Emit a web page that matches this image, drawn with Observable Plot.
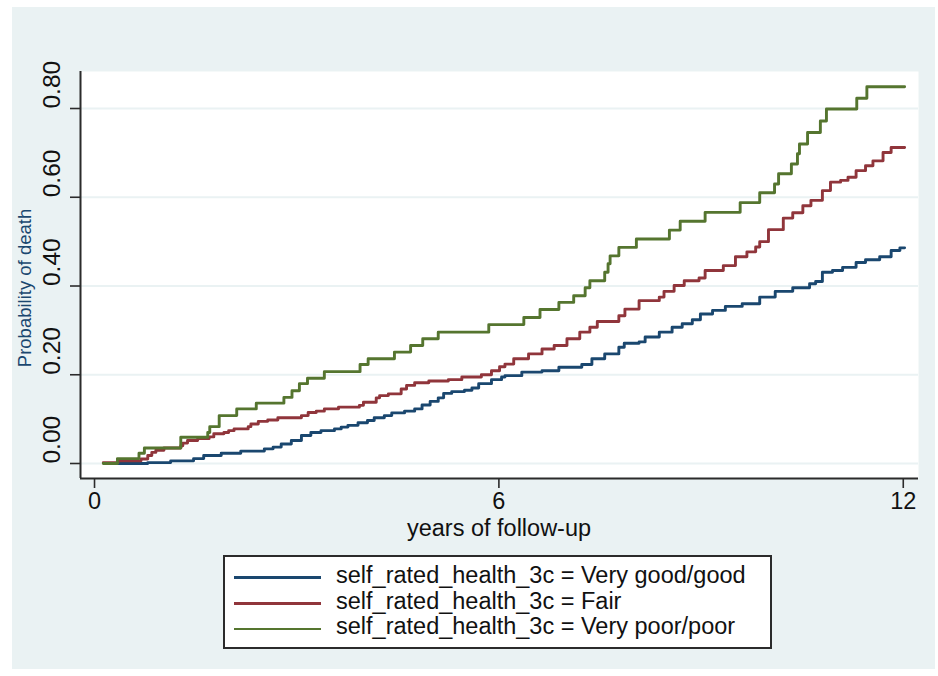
<!DOCTYPE html>
<html>
<head>
<meta charset="utf-8">
<script src="https://cdn.jsdelivr.net/npm/d3@7"></script>
<script src="https://cdn.jsdelivr.net/npm/@observablehq/plot@0.6"></script>
<style>
  body { margin: 0; background: #ffffff; font-family: "Liberation Sans", Arial, sans-serif; }
  #wrap { position: relative; width: 938px; height: 676px; overflow: hidden; }
  #bg { position: absolute; left: 12px; top: 7px; width: 923px; height: 662px; background: #eaf2f3; }
  #chart { position: absolute; left: 0; top: 0; }
  .t { position: absolute; white-space: nowrap; line-height: 1; color: #111; }
  #legendBox { position: absolute; left: 223px; top: 555px; width: 549px; height: 94px; box-sizing: border-box; border: 2px solid #2b2b2b; background: #ffffff; }
  .sw { position: absolute; height: 2.8px; }
</style>
</head>
<body>
<div id="wrap">
  <div id="bg"></div>
  <div id="chart"></div>
  <div class="t" id="ytitle" style="left:25px;top:288px;font-size:18.5px;color:#1a476f;transform:translate(-50%,-50%) rotate(-90deg);">Probability of death</div>
  <div class="t" id="xtitle" style="left:499px;top:517px;font-size:23.5px;transform:translateX(-50%);">years of follow-up</div>
  <div id="legendBox"></div>
</div>
<script>
// ---- data (years of follow-up, cumulative probability of death) ----
const seriesNames = [
  "self_rated_health_3c = Very good/good",
  "self_rated_health_3c = Fair",
  "self_rated_health_3c = Very poor/poor"
];
const seriesColors = ["#1a476f", "#90353b", "#55752f"];

const goodSteps = [
  [0.19,0],[0.79,0.002],[1.13,0.006],[1.47,0.011],[1.62,0.018],[1.88,0.023],[2.17,0.028],[2.52,0.033],
  [2.65,0.037],[2.77,0.044],[2.92,0.052],[3.07,0.063],[3.21,0.070],[3.36,0.074],[3.56,0.078],[3.66,0.082],
  [3.76,0.086],[3.91,0.092],[4.05,0.097],[4.15,0.103],[4.30,0.108],[4.41,0.114],[4.60,0.118],[4.75,0.123],
  [4.86,0.132],[4.98,0.140],[5.10,0.148],[5.18,0.158],[5.30,0.162],[5.49,0.165],[5.60,0.170],[5.70,0.180],
  [5.89,0.189],[6.04,0.195],[6.09,0.198],[6.34,0.206],[6.64,0.209],[6.89,0.217],[7.23,0.223],[7.38,0.236],
  [7.57,0.247],[7.78,0.262],[7.86,0.271],[8.08,0.274],[8.17,0.285],[8.38,0.296],[8.57,0.307],[8.72,0.315],
  [8.87,0.324],[8.99,0.337],[9.17,0.345],[9.36,0.354],[9.61,0.360],[9.87,0.375],[10.10,0.388],[10.36,0.396],
  [10.61,0.405],[10.70,0.410],[10.80,0.431],[10.95,0.435],[11.10,0.442],[11.30,0.453],[11.44,0.459],
  [11.65,0.466],[11.82,0.480],[11.95,0.486],[12.02,0.486]
];

const fairSteps = [
  [0.13,0.002],[0.35,0.006],[0.69,0.010],[0.79,0.018],[0.85,0.025],[0.91,0.030],[1.03,0.035],[1.28,0.040],
  [1.31,0.046],[1.38,0.052],[1.53,0.056],[1.70,0.060],[1.77,0.067],[1.92,0.070],[1.99,0.074],[2.07,0.078],
  [2.28,0.083],[2.32,0.089],[2.43,0.095],[2.57,0.098],[2.72,0.103],[3.07,0.108],[3.17,0.115],[3.29,0.118],
  [3.41,0.123],[3.62,0.127],[3.93,0.131],[3.99,0.138],[4.18,0.148],[4.23,0.153],[4.36,0.157],[4.55,0.168],
  [4.63,0.176],[4.75,0.182],[4.96,0.186],[5.25,0.189],[5.45,0.195],[5.74,0.200],[5.89,0.209],[6.01,0.218],
  [6.09,0.224],[6.22,0.236],[6.44,0.247],[6.64,0.258],[6.82,0.266],[7.01,0.281],[7.20,0.296],[7.35,0.307],
  [7.46,0.320],[7.78,0.333],[7.87,0.348],[8.08,0.367],[8.38,0.375],[8.45,0.388],[8.60,0.401],[8.75,0.412],
  [8.97,0.418],[9.06,0.435],[9.33,0.446],[9.51,0.466],[9.68,0.477],[9.81,0.488],[9.87,0.500],[10.00,0.527],
  [10.22,0.553],[10.36,0.565],[10.51,0.581],[10.63,0.593],[10.80,0.615],[10.92,0.634],[11.07,0.638],
  [11.18,0.645],[11.30,0.660],[11.44,0.671],[11.55,0.682],[11.70,0.701],[11.82,0.712],[12.02,0.712]
];

const poorSteps = [
  [0.13,0],[0.34,0.011],[0.66,0.023],[0.74,0.035],[1.28,0.059],[1.68,0.070],[1.71,0.083],[1.85,0.108],
  [2.11,0.123],[2.40,0.136],[2.81,0.149],[2.93,0.164],[3.04,0.180],[3.16,0.192],[3.41,0.207],[3.94,0.223],
  [4.06,0.236],[4.45,0.251],[4.69,0.266],[4.87,0.281],[5.10,0.296],[5.85,0.313],[6.37,0.329],[6.61,0.347],
  [6.89,0.363],[7.11,0.378],[7.28,0.396],[7.35,0.412],[7.57,0.431],[7.62,0.450],[7.65,0.468],[7.78,0.487],
  [8.04,0.506],[8.53,0.526],[8.69,0.546],[9.06,0.566],[9.58,0.588],[9.87,0.610],[10.09,0.630],[10.15,0.653],
  [10.34,0.675],[10.43,0.698],[10.46,0.720],[10.58,0.746],[10.77,0.772],[10.86,0.799],[11.31,0.823],
  [11.46,0.849],[12.02,0.849]
];

const xTicks = [0, 6, 12];
const yTicks = [0, 0.2, 0.4, 0.6, 0.8];
const xDomain = [-0.208, 12.226];
const yDomain = [-0.0338, 0.8834];

// ---- build table ----
const allSteps = [goodSteps, fairSteps, poorSteps];
const rows = [];
allSteps.forEach((steps, i) => {
  steps.forEach(([t, p]) => rows.push({series: seriesNames[i], t, p}));
});

const chart = Plot.plot({
  width: 938,
  height: 676,
  marginLeft: 80,
  marginRight: 20,
  marginTop: 71,
  marginBottom: 198,
  style: {background: "transparent", fontFamily: "'Liberation Sans', Arial, sans-serif", color: "#111"},
  x: {domain: xDomain},
  y: {domain: yDomain},
  color: {domain: seriesNames, range: seriesColors},
  marks: [
    Plot.frame({fill: "#ffffff"}),
    Plot.gridY(yTicks, {stroke: "#eaf2f3", strokeOpacity: 1, strokeWidth: 2.2}),
    Plot.line(rows, {x: "t", y: "p", z: "series", stroke: "series", curve: "step-after", strokeWidth: 2.9}),
    Plot.ruleX([xDomain[0]], {stroke: "#2b2b2b", strokeWidth: 2}),
    Plot.ruleY([yDomain[0]], {stroke: "#2b2b2b", strokeWidth: 2}),
    Plot.axisY(yTicks, {tickSize: 10, tickFormat: () => "", label: null, stroke: "#2b2b2b", strokeWidth: 1.6}),
    Plot.text(yTicks, {y: d => d, text: d => d.toFixed(2), frameAnchor: "left", dx: -28, rotate: -90, fontSize: 24.5, fill: "#111"}),
    Plot.axisX(xTicks, {tickSize: 10, tickPadding: 4, fontSize: 23.5, label: null, stroke: "#2b2b2b", strokeWidth: 1.6, fill: "#111"})
  ]
});
document.getElementById("chart").appendChild(chart);

// ---- legend ----
const wrap = document.getElementById("wrap");
const legendBaselines = [583.5, 609.5, 635];
seriesNames.forEach((name, i) => {
  const sw = document.createElement("div");
  sw.className = "sw";
  sw.style.left = "234px";
  sw.style.width = "87px";
  sw.style.top = (legendBaselines[i] - 7.5) + "px";
  sw.style.background = seriesColors[i];
  wrap.appendChild(sw);
  const tx = document.createElement("div");
  tx.className = "t";
  tx.style.left = "336px";
  tx.style.fontSize = "23.5px";
  tx.style.top = (legendBaselines[i] - 0.8465 * 23.5) + "px";
  tx.textContent = name;
  wrap.appendChild(tx);
});
</script>
</body>
</html>
